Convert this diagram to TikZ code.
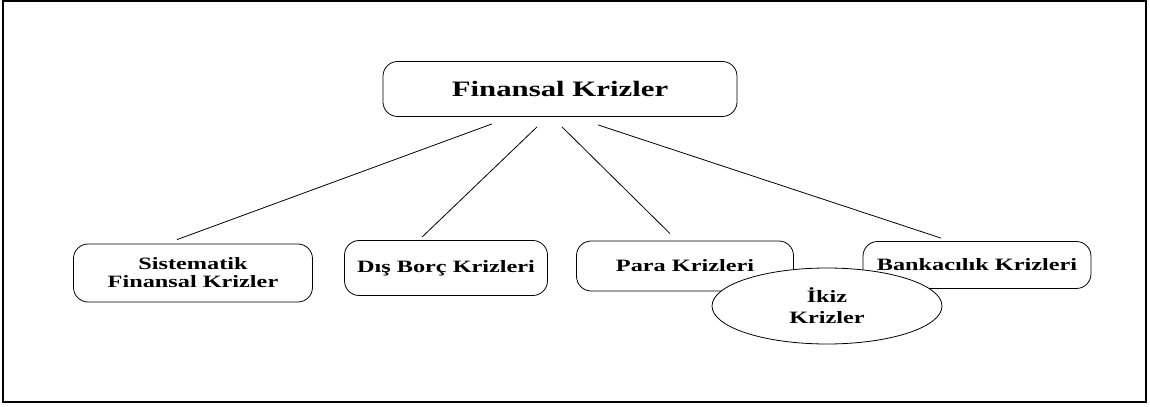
\documentclass[tikz,border=0pt]{standalone}
\usepackage{fontspec}
\setmainfont{Liberation Serif}[FakeStretch=1.4]
\usetikzlibrary{shapes}
\usetikzlibrary{calc}

\begin{document}
\begin{tikzpicture}[x=0.75pt, y=-0.75pt,
        krizbox/.style={draw, line width=0.6pt, rounded corners=11pt, align=center, inner sep=0pt,
            font=\bfseries\fontsize{13}{13.5}\selectfont},
        krizline/.style={line width=0.6pt}]
        \useasboundingbox (0,0) rectangle (1150,407);
        \draw [line width=1.2pt] (3,1) rectangle (1146,402);
        \draw [line width=2.2pt] (3,402) -- (1146,402);
        % ana kutu
        \node [krizbox, minimum width=265.5pt, minimum height=41.25pt,
            font=\bfseries\fontsize{16.5}{18}\selectfont] (fin) at (560,89) {Finansal Krizler};
        % alt kutular
        \node [krizbox, minimum width=179.25pt, minimum height=43.5pt] (sis) at (193,273) {Sistematik\\Finansal Krizler};
        \node [krizbox, minimum width=152.25pt, minimum height=41.25pt] (dis) at (446,268) {Dış Borç Krizleri};
        \node [krizbox, minimum width=162.75pt, minimum height=37.5pt] (para) at (685,266) {Para Krizleri};
        \node [krizbox, minimum width=171pt, minimum height=35.25pt] (bank) at (977,265) {Bankacılık Krizleri};
        \node [ellipse, draw, fill=white, line width=0.6pt, minimum width=172.5pt, minimum height=57pt,
            align=center, inner sep=0pt, font=\bfseries\fontsize{13}{15.75}\selectfont] (ikiz) at (827,306) {İkiz\\Krizler};
        % baglantilar
        \draw [krizline] ([shift={(-68,7)}]fin.south) -- ([shift={(-16,-4)}]sis.north);
        \draw [krizline] ([shift={(-23,10)}]fin.south) -- ([shift={(-24,-3)}]dis.north);
        \draw [krizline] ([shift={(2,10)}]fin.south) -- ([shift={(-15,-7)}]para.north);
        \draw [krizline] ([shift={(38,8)}]fin.south) -- ([shift={(-36,-3)}]bank.north);
\end{tikzpicture}
\end{document}
